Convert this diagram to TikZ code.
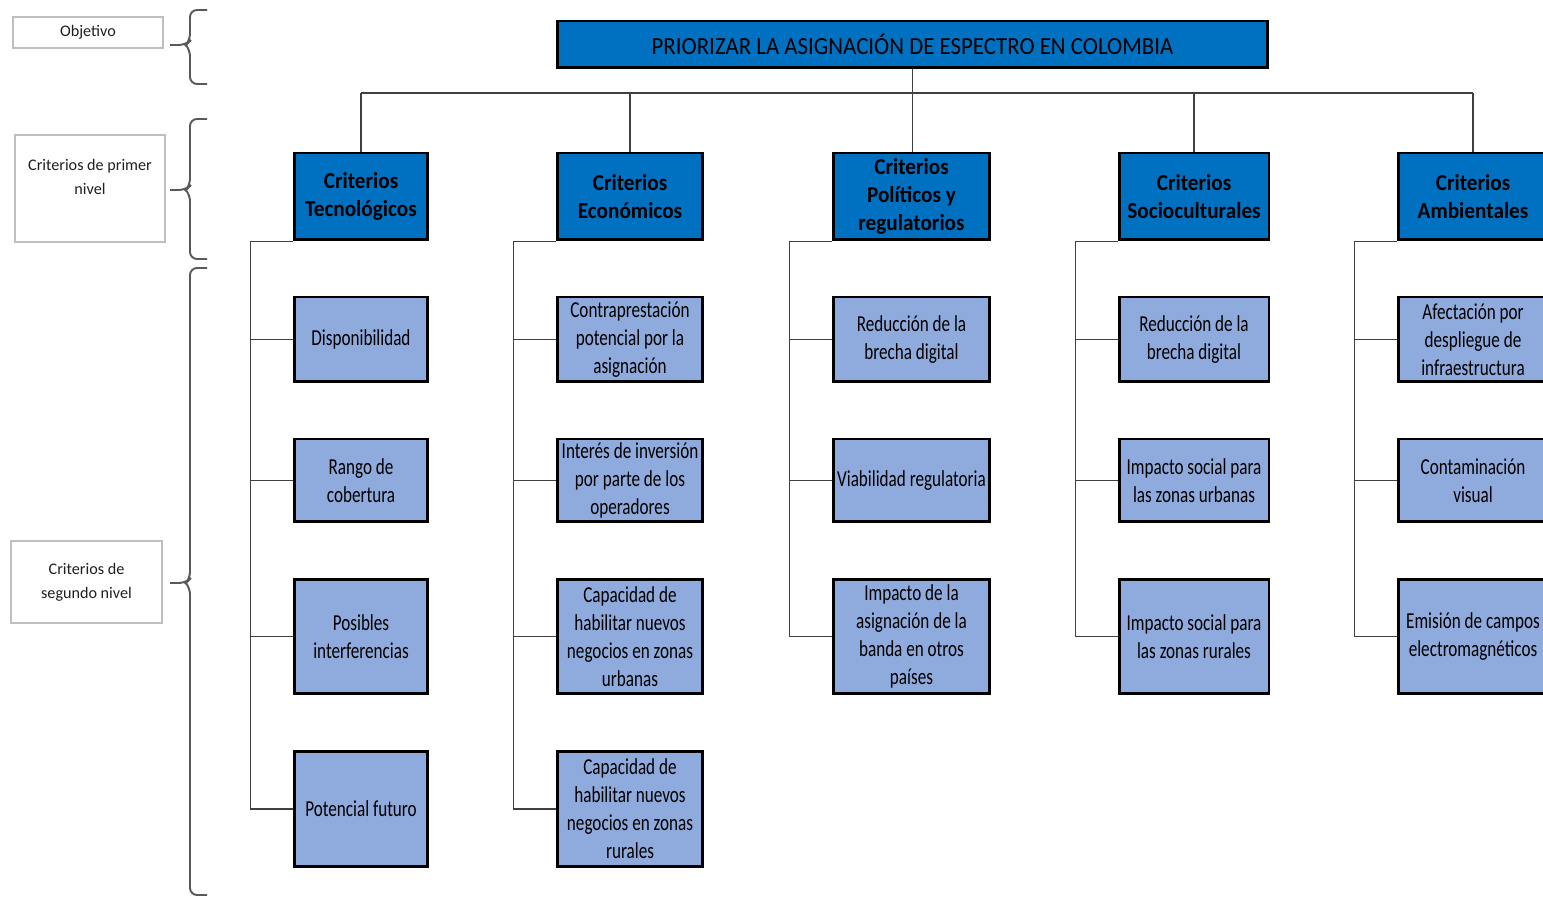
\documentclass[tikz,border=0pt]{standalone}
\usepackage{fontspec}
\setmainfont{Carlito}
\newfontfamily\cellfont{Carlito}[FakeStretch=0.75]
\newfontfamily\headfont{Carlito}[FakeStretch=0.93]
\definecolor{azul}{HTML}{0070C0}
\definecolor{celeste}{HTML}{8FAADC}
\definecolor{linea}{HTML}{404040}

% curly bracket: top y, tip y, bottom y
\newcommand{\levelbrace}[3]{%
  \draw[brace] (207,#1) -- (190,#1) -- (190,#2-4) -- (186,#2) -- (170,#2);
  \draw[brace] (186,#2) -- (190,#2+4) -- (190,#3) -- (207,#3);}

\begin{document}
\begin{tikzpicture}[x=0.02cm, y=-0.02cm,
  head/.style={draw=black, line width=1.7pt, fill=azul, align=center, inner sep=0pt,
    minimum height=1.74cm, font=\headfont\bfseries\fontsize{13}{15.9}\selectfont},
  item/.style={draw=black, line width=1.7pt, fill=celeste, align=center, inner sep=0pt,
    font=\cellfont\fontsize{13}{15.9}\selectfont},
  tag/.style={draw=black!25, line width=0.8pt, align=center, text=black!88,
    inner sep=0pt, font=\fontsize{9.2}{13.6}\selectfont},
  link/.style={draw=linea, line width=1.1pt},
  brace/.style={draw=black!65, line width=1.1pt, rounded corners=4pt},
  tecw/.style={minimum width=2.68cm}, ecow/.style={minimum width=2.92cm},
  polw/.style={minimum width=3.14cm}, socw/.style={minimum width=3.0cm},
  ambw/.style={minimum width=3.0cm},
  r1/.style={minimum height=1.7cm}, r2/.style={minimum height=1.66cm},
  r3/.style={minimum height=2.3cm}, r4/.style={minimum height=2.32cm}]
  \useasboundingbox (0,0) rectangle (1543,898);

  % levels on the left
  \node[tag, minimum width=3cm, minimum height=0.62cm] (obj) at (88,32.5) {Objetivo};
  \node[tag, minimum width=3cm, minimum height=2.14cm] (nivel1) at (90,188.5)
    {Criterios de primer\\nivel\\\mbox{}};
  \node[tag, minimum width=3.02cm, minimum height=1.64cm] (nivel2) at (86.5,582)
    {Criterios de\\segundo nivel};
  \levelbrace{10}{45}{84}
  \levelbrace{119}{190}{259}
  \levelbrace{268}{583}{895}

  % objective
  \node[draw=black, line width=1.7pt, fill=azul, minimum width=14.22cm, minimum height=0.94cm,
    inner sep=0pt, font=\headfont\fontsize{14}{16}\selectfont] (top) at (912.5,44.5)
    {PRIORIZAR LA ASIGNACIÓN DE ESPECTRO EN COLOMBIA};

  % first level
  \node[head, tecw] (tec) at (361,196.5) {Criterios\\Tecnológicos};
  \node[head, ecow] (eco) at (630,196.5) {Criterios\\Económicos};
  \node[head, polw] (pol) at (911.5,196.5) {Criterios\\Políticos y\\regulatorios};
  \node[head, socw] (soc) at (1194,196.5) {Criterios\\Socioculturales};
  \node[head, ambw] (amb) at (1473,196.5) {Criterios\\Ambientales};

  % second level
  \node[item, tecw, r1] (tec1) at (361,339.5) {Disponibilidad};
  \node[item, tecw, r2] (tec2) at (361,480.5) {Rango de\\cobertura};
  \node[item, tecw, r3] (tec3) at (361,636.5) {Posibles\\interferencias};
  \node[item, tecw, r4] (tec4) at (361,809) {Potencial futuro};

  \node[item, ecow, r1] (eco1) at (630,339.5) {Contraprestación\\potencial por la\\asignación};
  \node[item, ecow, r2] (eco2) at (630,480.5) {Interés de inversión\\por parte de los\\operadores};
  \node[item, ecow, r3] (eco3) at (630,636.5) {Capacidad de\\habilitar nuevos\\negocios en zonas\\urbanas};
  \node[item, ecow, r4] (eco4) at (630,809) {Capacidad de\\habilitar nuevos\\negocios en zonas\\rurales};

  \node[item, polw, r1] (pol1) at (911.5,339.5) {Reducción de la\\brecha digital};
  \node[item, polw, r2] (pol2) at (911.5,480.5) {Viabilidad regulatoria};
  \node[item, polw, r3] (pol3) at (911.5,636.5) {Impacto de la\\asignación de la\\banda en otros\\países};

  \node[item, socw, r1] (soc1) at (1194,339.5) {Reducción de la\\brecha digital};
  \node[item, socw, r2] (soc2) at (1194,480.5) {Impacto social para\\las zonas urbanas};
  \node[item, socw, r3] (soc3) at (1194,636.5) {Impacto social para\\las zonas rurales};

  \node[item, ambw, r1] (amb1) at (1473,339.5) {Afectación por\\despliegue de\\infraestructura};
  \node[item, ambw, r2] (amb2) at (1473,480.5) {Contaminación\\visual};
  \node[item, ambw, r3] (amb3) at (1473,636.5) {Emisión de campos\\electromagnéticos};

  % connectors
  \coordinate (bus) at (0,93);
  \draw[link] (tec.north |- bus) -- (amb.north |- bus);
  \draw[link] (top.south) -- (top.south |- pol.north);
  \foreach \n in {tec,eco,soc,amb}
    \draw[link] (\n.north |- bus) -- (\n.north);

  \draw[link] (tec.south west) -- ++(-42,0) |- (tec4.west);
  \draw[link] (eco.south west) -- ++(-42,0) |- (eco4.west);
  \draw[link] (pol.south west) -- ++(-42,0) |- (pol3.west);
  \draw[link] (soc.south west) -- ++(-42,0) |- (soc3.west);
  \draw[link] (amb.south west) -- ++(-42,0) |- (amb3.west);
  \foreach \n in {tec1,tec2,tec3,eco1,eco2,eco3,pol1,pol2,soc1,soc2,amb1,amb2}
    \draw[link] (\n.west) -- ++(-42,0);
\end{tikzpicture}
\end{document}
